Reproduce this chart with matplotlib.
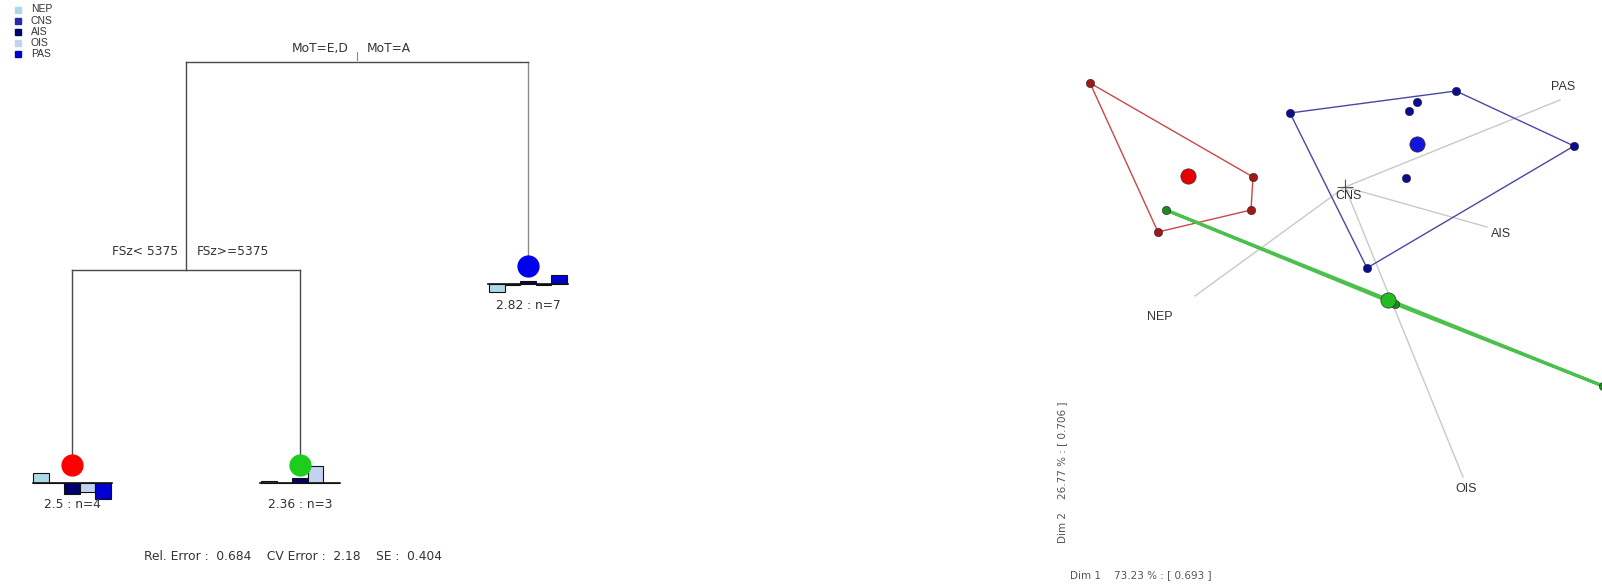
import matplotlib.pyplot as plt
from matplotlib.lines import Line2D
import numpy as np

plt.rcParams['font.family'] = ['Liberation Sans', 'DejaVu Sans']

# response species and their bar colours
species = ['NEP', 'CNS', 'AIS', 'OIS', 'PAS']
species_colors = ['#add8e6', '#2a2aa8', '#00006e', '#c4d2f2', '#0000d0']

# multivariate tree, leaves from left to right
leaf_value = [2.5, 2.36, 2.82]
leaf_n = [4, 3, 7]
leaf_colors = ['#ff0000', '#1ecc1e', '#0000ee']
# standardized species means in each leaf (same order as species)
leaf_means = [
    [0.65, 0.03, -0.70, -0.53, -1.00],
    [0.16, 0.02, 0.30, 1.05, 0.00],
    [-0.47, -0.03, 0.20, -0.08, 0.55],
]
split_left = ['MoT=E,D', 'FSz< 5375']
split_right = ['MoT=A', 'FSz>=5375']
# node heights on the deviance scale
root_dev = 1.0
inner_dev = 0.484
leaf_dev = [0.0, 0.0, 0.494]
rel_error, cv_error, se = 0.684, 2.18, 0.404

# PCA of the sites, one array per leaf group
red_x = [-2.55, -0.92, -0.94, -1.87]
red_y = [1.04, 0.10, -0.23, -0.45]
green_x = [-1.79, 0.50, 2.58]
green_y = [-0.23, -1.17, -1.99]
blue_x = [-0.55, 1.11, 2.29, 0.22, 0.72, 0.64, 0.61]
blue_y = [0.74, 0.96, 0.41, -0.81, 0.85, 0.76, 0.09]
# species loadings
load_x = [-1.50, 0.04, 1.42, 1.18, 2.15]
load_y = [-1.09, -0.05, -0.40, -2.90, 0.87]
dim_pct = [73.23, 26.77]
dim_r = [0.693, 0.706]

W, H = 1602, 587
fig = plt.figure(figsize=(W / 100, H / 100), dpi=100)
tree_font = dict(family=['DejaVu Sans'], fontsize=8.8, color='#333333')

# ---------------- tree ----------------
ax = fig.add_axes([0, 0, 600 / W, 1])
ax.set_xlim(0.684, 3.316)
ax.set_ylim(-0.3027, 1.154)
ax.axis('off')

line_c = '#4a4a4a'
leaf_x = [1.0, 2.0, 3.0]
inner_x = (leaf_x[0] + leaf_x[1]) / 2
root_x = (inner_x + leaf_x[2]) / 2

ax.plot([inner_x, leaf_x[2]], [root_dev, root_dev], color=line_c, lw=1)
ax.plot([inner_x, inner_x], [root_dev, inner_dev], color=line_c, lw=1)
ax.plot([leaf_x[2], leaf_x[2]], [root_dev, leaf_dev[2]], color='#8a8a8a', lw=1, zorder=1)
ax.plot([leaf_x[0], leaf_x[1]], [inner_dev, inner_dev], color=line_c, lw=1)
for i in range(2):
    ax.plot([leaf_x[i], leaf_x[i]], [inner_dev, leaf_dev[i]], color=line_c, lw=1, zorder=1)

# split labels
ax.plot([root_x, root_x], [root_dev + 0.005, root_dev + 0.025], color='#888888', lw=0.8)
ax.annotate(split_left[0], (root_x, root_dev), xytext=(-6, 10), textcoords='offset points',
            ha='right', va='center', **tree_font)
ax.annotate(split_right[0], (root_x, root_dev), xytext=(7, 10), textcoords='offset points',
            ha='left', va='center', **tree_font)
ax.annotate(split_left[1], (inner_x, inner_dev), xytext=(-6, 13), textcoords='offset points',
            ha='right', va='center', **tree_font)
ax.annotate(split_right[1], (inner_x, inner_dev), xytext=(8, 13), textcoords='offset points',
            ha='left', va='center', **tree_font)

bar_w = 0.068
bar_scale = 0.040
for i in range(3):
    x0, y0 = leaf_x[i], leaf_dev[i]
    ax.plot(x0, y0, 'o', ms=15, color=leaf_colors[i], mec=leaf_colors[i], zorder=4)
    base = y0 - 0.045
    offs = (np.arange(len(species)) - 2) * bar_w
    ax.bar(x0 + offs, np.array(leaf_means[i]) * bar_scale, width=bar_w, bottom=base,
           color=species_colors, edgecolor='#111111', linewidth=0.8, zorder=3)
    ax.plot([x0 - 2.55 * bar_w, x0 + 2.6 * bar_w], [base, base], color='#111111', lw=1.2, zorder=3)
    ax.text(x0, y0 - 0.098, f'{leaf_value[i]:g} : n={leaf_n[i]}', ha='center', va='center',
            **tree_font)

fig.text(293 / W, 1 - 557 / H,
         f'Rel. Error :  {rel_error:g}    CV Error :  {cv_error:g}    SE :  {se:g}',
         ha='center', va='center', **tree_font)

# legend of the bar colours
for i, (name, c) in enumerate(zip(species, species_colors)):
    y = 1 - (9.5 + 11.2 * i) / H
    fig.add_artist(Line2D([18 / W], [y], marker='s', ms=4, color=c, mec=c,
                          transform=fig.transFigure))
    fig.text(31 / W, y, name, ha='left', va='center', fontsize=7.5, color='#333333')

# ---------------- PCA biplot ----------------
bx = fig.add_axes([1000 / W, 0, 602 / W, 1])
bx.set_xlim(-3.45, 2.57)
bx.set_ylim(-4.0, 1.87)
bx.axis('off')


def hull(xs, ys):
    pts = sorted(set(zip(xs, ys)))

    def cross(o, a, b):
        return (a[0] - o[0]) * (b[1] - o[1]) - (a[1] - o[1]) * (b[0] - o[0])

    lower, upper = [], []
    for p in pts:
        while len(lower) >= 2 and cross(lower[-2], lower[-1], p) <= 0:
            lower.pop()
        lower.append(p)
    for p in reversed(pts):
        while len(upper) >= 2 and cross(upper[-2], upper[-1], p) <= 0:
            upper.pop()
        upper.append(p)
    h = lower[:-1] + upper[:-1]
    h.append(h[0])
    return [p[0] for p in h], [p[1] for p in h]


# species arrows from the origin
for name, lx, ly in zip(species, load_x, load_y):
    bx.plot([0, lx], [0, ly], color='#c9c9c9', lw=1, zorder=1)
label_off = {'NEP': (-25, -15), 'CNS': (0, -3), 'AIS': (10, -5), 'OIS': (2, -9), 'PAS': (2, 9)}
for name, lx, ly in zip(species, load_x, load_y):
    bx.annotate(name, (lx, ly), xytext=label_off[name], textcoords='offset points',
                ha='center', va='center', fontsize=9, color='#333333', zorder=5)
bx.plot(0, 0, '+', ms=11, color='#555555', mew=0.8, zorder=2)

groups = [
    (red_x, red_y, '#c84848', '#a01818', '#e80000', 1.0),
    (green_x, green_y, '#4cc04c', '#1e8a1e', '#22bb22', 2.2),
    (blue_x, blue_y, '#4848a8', '#0c0c92', '#1414dc', 1.0),
]
for xs, ys, hull_c, pt_c, cen_c, hlw in groups:
    hx, hy = hull(xs, ys)
    bx.plot(hx, hy, color=hull_c, lw=hlw, zorder=2)
    bx.plot(xs, ys, 'o', ms=6, color=pt_c, mec='#222222', mew=0.4, zorder=3)
    bx.plot(np.mean(xs), np.mean(ys), 'o', ms=11, color=cen_c, mec='#333333', mew=0.5, zorder=4)

dim_font = dict(family=['DejaVu Sans'], fontsize=7.5, color='#555555')
fig.text(1062 / W, 1 - 472 / H, f'Dim 2    {dim_pct[1]:.2f} % : [ {dim_r[1]:.3f} ]',
         rotation=90, ha='center', va='center', **dim_font)
fig.text(1070 / W, 1 - 575 / H, f'Dim 1    {dim_pct[0]:.2f} % : [ {dim_r[0]:.3f} ]',
         ha='left', va='center', **dim_font)

fig.savefig('out.png', dpi=100)
